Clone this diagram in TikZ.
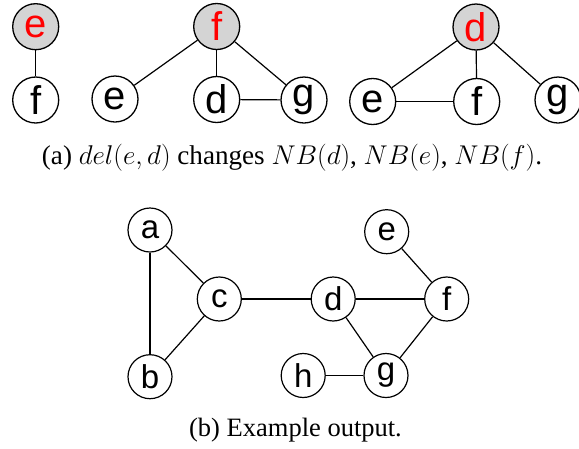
\documentclass[tikz,border=0pt]{standalone}
\usepackage{fontspec}
\setmainfont{Liberation Serif}
\newfontfamily\nodefont{Liberation Sans}
\begin{document}
\begin{tikzpicture}[x=1pt,y=-1pt,
  big/.style={circle,draw=black,line width=1.3pt,minimum size=46pt,inner sep=0pt,font=\nodefont\fontsize{40}{40}\selectfont},
  root/.style={big,fill=black!17,text=red},
  small/.style={circle,draw=black,line width=1.2pt,minimum size=44pt,inner sep=0pt,font=\nodefont\fontsize{33}{33}\selectfont},
  edge/.style={line width=1.2pt},
  captext/.style={font=\fontsize{26.5}{26.5}\selectfont}]
\useasboundingbox (0,0) rectangle (579,448);
% tree 1
\node[root] (t1e) at (35.7,26.7) {e};
\node[big] (t1f) at (35.7,100) {f};
\draw[edge] (t1e) -- (t1f);
% tree 2
\node[root] (t2f) at (216.7,26.5) {f};
\node[big] (t2e) at (115,99) {e};
\node[big] (t2d) at (216.7,99.5) {d};
\node[big] (t2g) at (304,100) {g};
\draw[edge] (t2f) -- (t2e);
\draw[edge] (t2f) -- (t2d);
\draw[edge] (t2f) -- (t2g);
\draw[edge] (t2d) -- (t2g);
% tree 3
\node[root] (t3d) at (476,27) {d};
\node[big] (t3e) at (372.7,101.5) {e};
\node[big] (t3f) at (476.7,101.5) {f};
\node[big] (t3g) at (558,100) {g};
\draw[edge] (t3d) -- (t3e);
\draw[edge] (t3d) -- (t3f);
\draw[edge] (t3d) -- (t3g);
\draw[edge] (t3e) -- (t3f);
% caption a
\node[font=\fontsize{24.88}{24.88}\selectfont,scale=1.09] (capa) at (292,158) {(a) $del(e,d)$ changes $NB(d)$, $NB(e)$, $NB(f)$.};
% graph b
\node[small] (a) at (150,230) {a};
\node[small] (c) at (219.3,299) {c};
\node[small] (b) at (150,376.7) {b};
\node[small] (d) at (333.2,299) {d};
\node[small] (e) at (386.7,231.7) {e};
\node[small] (f) at (446.7,299) {f};
\node[small] (g) at (386,375.5) {g};
\node[small] (h) at (303.2,375.5) {h};
\draw[edge] (a) -- (c);
\draw[edge] (a) -- (b);
\draw[edge] (b) -- (c);
\draw[edge] (c) -- (d);
\draw[edge] (d) -- (f);
\draw[edge] (d) -- (g);
\draw[edge] (e) -- (f);
\draw[edge] (f) -- (g);
\draw[edge] (h) -- (g);
\node[captext] (capb) at (295.5,430) {(b) Example output.};
\end{tikzpicture}
\end{document}
